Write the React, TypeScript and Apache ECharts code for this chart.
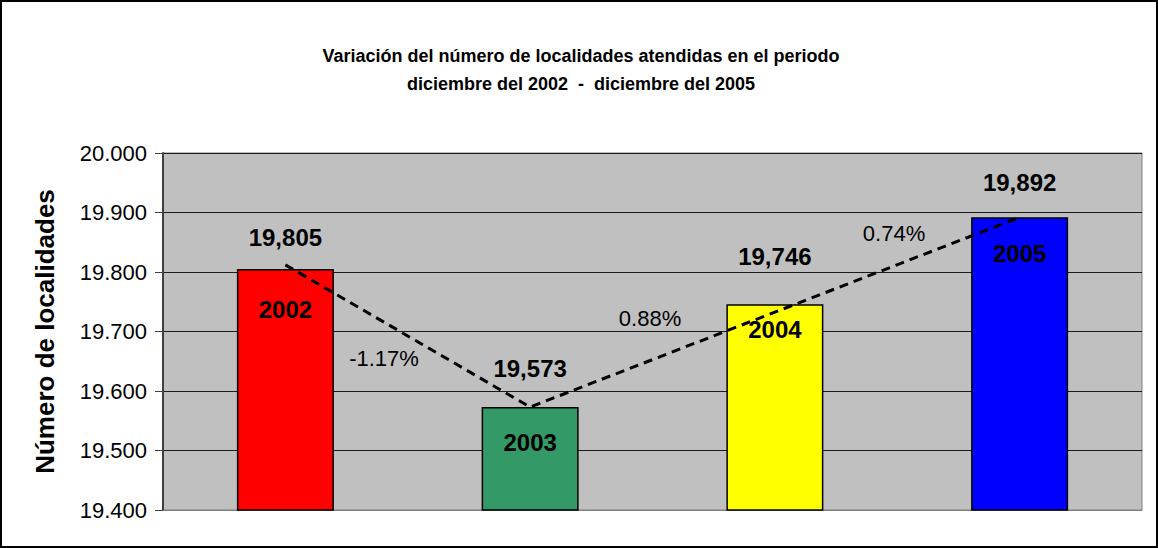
import React, { useEffect, useRef } from "react";
import * as echarts from "echarts";

const categories = ["2002", "2003", "2004", "2005"];
const values = [19805, 19573, 19746, 19892];
const barColors = ["#FF0000", "#339966", "#FFFF00", "#0000FF"];
const trendValues: (number | null)[] = [19812, 19573, null, 19892];
const yMin = 19400;
const yMax = 20000;
const yInterval = 100;
const titleLines = [
  "Variación del número de localidades atendidas en el periodo",
  "diciembre del 2002  -  diciembre del 2005",
];
const yAxisName = "Número de localidades";

// label placement tweaks (style, not data)
const valueLabelDistances = [20, 27, 36, 23];
const yearLabelDistances = [28, 23, 13, 24];
const percentPositions = [
  [384, 358],
  [650, 318],
  [894, 233],
];
const titleTops = [47, 75];

const FONT = "'Liberation Sans', Arial, Helvetica, sans-serif";

export default function App() {
  const ref = useRef<HTMLDivElement>(null);
  useEffect(() => {
    if (!ref.current) return;
    const chart = echarts.init(ref.current, undefined, { renderer: "svg" });
    const percents = values.slice(1).map((v, i) => {
      const p = ((v - values[i]) / values[i]) * 100;
      return p.toFixed(2) + "%";
    });
    chart.setOption({
      animation: false,
      backgroundColor: "#FFFFFF",
      textStyle: { fontFamily: FONT },
      title: titleLines.map((t, i) => ({
        text: t,
        left: 581,
        textAlign: "center",
        top: titleTops[i],
        padding: 0,
        textStyle: {
          fontFamily: FONT,
          fontSize: 18,
          fontWeight: "bold",
          color: "#000",
        },
      })),
      grid: {
        left: 163,
        top: 153,
        right: 16,
        bottom: 38,
        show: true,
        backgroundColor: "#C0C0C0",
        borderColor: "#808080",
        borderWidth: 1,
      },
      xAxis: {
        type: "category",
        data: categories,
        axisLine: { show: true, lineStyle: { color: "#808080", width: 1 } },
        axisTick: { show: false },
        axisLabel: { show: false },
        splitLine: { show: false },
      },
      yAxis: {
        type: "value",
        min: yMin,
        max: yMax,
        interval: yInterval,
        name: yAxisName,
        nameLocation: "middle",
        nameRotate: 90,
        nameGap: 105,
        nameTextStyle: {
          fontFamily: FONT,
          fontSize: 26,
          fontWeight: "bold",
          color: "#000",
        },
        axisLine: { show: true, lineStyle: { color: "#404040", width: 2 } },
        axisTick: { show: true, length: 8, lineStyle: { color: "#404040", width: 1 } },
        axisLabel: {
          margin: 16,
          fontFamily: FONT,
          fontSize: 22,
          color: "#000",
          formatter: (v: number) => (v / 1000).toFixed(3),
        },
        splitLine: { show: true, lineStyle: { color: "#1a1a1a", width: 1 } },
      },
      series: [
        {
          type: "bar",
          barWidth: 97,
          barGap: "-100%",
          data: values.map((v, i) => ({
            value: v,
            itemStyle: { color: barColors[i] },
            label: { distance: yearLabelDistances[i] },
          })),
          itemStyle: { borderColor: "#000", borderWidth: 1.5 },
          label: {
            show: true,
            position: "insideTop",
            formatter: (p: any) => categories[p.dataIndex],
            fontFamily: FONT,
            fontSize: 24,
            fontWeight: "bold",
            color: "#000",
          },
          z: 2,
        },
        {
          type: "bar",
          barWidth: 97,
          barGap: "-100%",
          data: values.map((v, i) => ({
            value: v,
            label: { distance: valueLabelDistances[i] },
          })),
          itemStyle: { color: "rgba(0,0,0,0)", borderWidth: 0 },
          label: {
            show: true,
            position: "top",
            formatter: (p: any) => Number(p.value).toLocaleString("en-US"),
            fontFamily: FONT,
            fontSize: 24,
            fontWeight: "bold",
            color: "#000",
          },
          silent: true,
          z: 3,
        },
        {
          type: "line",
          data: trendValues,
          connectNulls: true,
          symbol: "none",
          lineStyle: { color: "#000", width: 3, type: [9, 6] },
          z: 4,
        },
      ],
      graphic: [
        ...percents.map((t, i) => ({
          type: "text",
          x: percentPositions[i][0],
          y: percentPositions[i][1],
          style: {
            text: t,
            fontFamily: FONT,
            fontSize: 22,
            fill: "#000",
            textAlign: "center",
            textVerticalAlign: "middle",
          },
          z: 10,
        })),
        {
          type: "rect",
          shape: { x: 1, y: 1, width: 1156, height: 546 },
          style: { fill: "none", stroke: "#000", lineWidth: 2 },
          z: 10,
        },
      ],
    });
    return () => chart.dispose();
  }, []);
  return (
    <div
      ref={ref}
      style={{ position: "absolute", left: 0, top: 0, width: 1158, height: 548 }}
    />
  );
}
